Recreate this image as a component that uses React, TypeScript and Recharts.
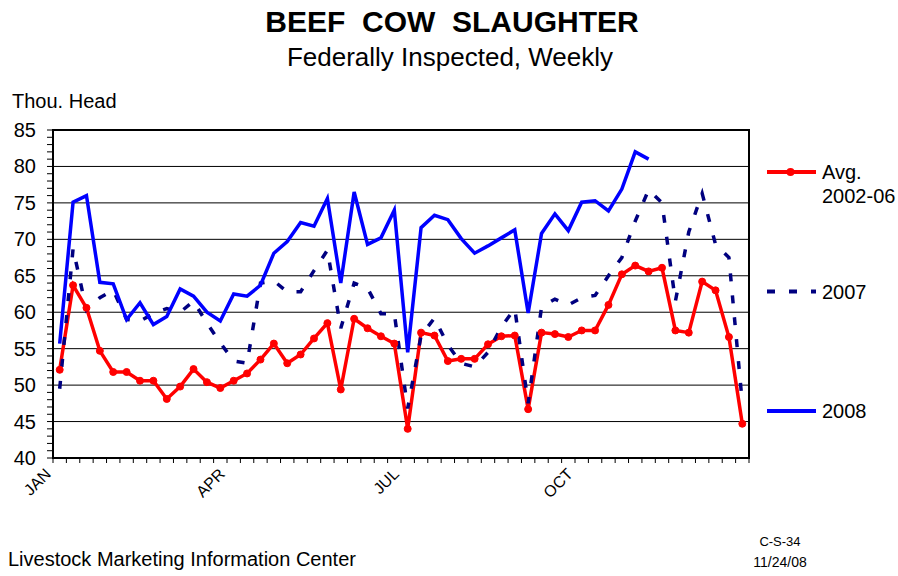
import React from "react";
import {
  LineChart,
  Line,
  XAxis,
  YAxis,
  CartesianGrid,
  ReferenceArea,
  Legend,
} from "recharts";

// weekly beef cow slaughter, thousand head
const avg0206 = [
  52.1, 63.7, 60.6, 54.7, 51.8, 51.8, 50.6, 50.6, 48.1, 49.8, 52.2, 50.4, 49.6,
  50.6, 51.6, 53.5, 55.7, 53.0, 54.2, 56.4, 58.5, 49.4, 59.1, 57.8, 56.7, 55.7,
  44.0, 57.2, 56.8, 53.3, 53.6, 53.6, 55.6, 56.7, 56.8, 46.7, 57.2, 57.0, 56.6,
  57.5, 57.5, 61.0, 65.2, 66.4, 65.6, 66.1, 57.5, 57.2, 64.2, 63.0, 56.6, 44.7,
];
const y2007 = [
  49.5, 68.7, 60.3, 62.0, 63.0, 59.0, 58.8, 59.8, 60.5, 60.0, 61.5, 58.5, 55.8,
  53.3, 53.0, 64.0, 64.3, 62.8, 62.8, 65.7, 68.5, 57.8, 64.0, 63.3, 59.8, 59.8,
  46.8, 56.8, 59.2, 55.5, 53.0, 52.5, 54.5, 58.0, 60.5, 47.5, 60.7, 61.8, 61.0,
  62.0, 62.3, 65.0, 67.5, 72.5, 76.8, 75.0, 61.5, 71.0, 76.3, 69.3, 67.5, 47.5,
];
const y2008 = [
  55.7, 75.1, 76.0, 64.1, 63.9, 59.0, 61.3, 58.3, 59.4, 63.2, 62.2, 60.0, 58.8,
  62.5, 62.2, 63.7, 68.1, 69.7, 72.3, 71.8, 75.6, 64.0, 76.5, 69.3, 70.2, 74.0,
  54.5, 71.6, 73.3, 72.7, 70.1, 68.1, 69.1, 70.2, 71.3, 59.9, 70.8, 73.5, 71.2,
  75.1, 75.3, 73.9, 76.9, 82.0, 81.0,
];

const seriesNames = ["Avg.\n2002-06", "2007", "2008"];
const monthLabels = ["JAN", "APR", "JUL", "OCT"];
const monthStartWeeks = [0, 13, 26, 39];
const yLabels = [40, 45, 50, 55, 60, 65, 70, 75, 80, 85];

const data = avg0206.map((v, i) => ({
  week: i + 1,
  avg: v,
  y2007: y2007[i],
  y2008: i < y2008.length ? y2008[i] : null,
}));

const yMinorTicks = Array.from({ length: 46 }, (_, i) => 40 + i);
const weekEdges = Array.from({ length: 53 }, (_, i) => i + 0.5);

const FONT = "'Liberation Sans', Arial, sans-serif";

function YTick(props: any) {
  const { x, y, payload } = props;
  if (!yLabels.includes(payload.value)) return null;
  return (
    <text x={x} y={y} dy={7} textAnchor="end" fontSize={20} fill="#000" fontFamily={FONT}>
      {payload.value}
    </text>
  );
}

function XTick(props: any) {
  const { x, y, payload } = props;
  const k = monthStartWeeks.indexOf(payload.value - 0.5);
  if (k < 0) return null;
  const ax = x - 1;
  const ay = y + 10;
  return (
    <text
      x={ax}
      y={ay}
      textAnchor="end"
      fontSize={16}
      fill="#000"
      fontFamily={FONT}
      transform={`rotate(-45, ${ax}, ${ay})`}
    >
      {monthLabels[k]}
    </text>
  );
}

function LegendBox(props: any) {
  const items = [...(props.payload || [])].sort(
    (a: any, b: any) => seriesNames.indexOf(a.value) - seriesNames.indexOf(b.value)
  );
  return (
    <svg width={138} height={290} style={{ overflow: "visible" }}>
      {items.map((it: any, i: number) => {
        const cy = 22 + i * 119.5;
        const lines = String(it.value).split("\n");
        return (
          <g key={i}>
            <line
              x1={7}
              x2={56}
              y1={cy}
              y2={cy}
              stroke={it.color}
              strokeWidth={4}
              strokeDasharray={it.payload?.strokeDasharray}
            />
            {it.payload?.dot ? <circle cx={30.5} cy={cy} r={4} fill={it.color} /> : null}
            {lines.map((t: string, j: number) => (
              <text key={j} x={62} y={cy + 7 + j * 24} fontSize={20} fill="#000" fontFamily={FONT}>
                {t}
              </text>
            ))}
          </g>
        );
      })}
    </svg>
  );
}

export default function App() {
  return (
    <div
      style={{
        position: "absolute",
        left: 0,
        top: 0,
        width: 898,
        height: 576,
        background: "#fff",
        fontFamily: FONT,
      }}
    >
      <svg width={898} height={576} style={{ position: "absolute", left: 0, top: 0 }}>
        <text x={452} y={32} textAnchor="middle" fontSize={30} fontWeight="bold" fontFamily={FONT} style={{ whiteSpace: "pre" }}>
          {"BEEF  COW  SLAUGHTER"}
        </text>
        <text x={450} y={66} textAnchor="middle" fontSize={26} fontFamily={FONT}>
          Federally Inspected, Weekly
        </text>
        <text x={12} y={108} fontSize={20} fontFamily={FONT}>
          Thou. Head
        </text>
        <text x={8} y={566} fontSize={20} fontFamily={FONT}>
          Livestock Marketing Information Center
        </text>
        <text x={780} y={546} textAnchor="middle" fontSize={13} fontFamily={FONT}>
          C-S-34
        </text>
        <text x={780} y={567} textAnchor="middle" fontSize={14} fontFamily={FONT}>
          11/24/08
        </text>
      </svg>
      <div style={{ position: "absolute", left: 0, top: 0 }}>
        <LineChart
          width={898}
          height={576}
          data={data}
          margin={{ top: 130, right: 149, bottom: 78, left: 0 }}
        >
          <CartesianGrid horizontalValues={yLabels} vertical={false} stroke="#000" strokeWidth={1} />
          <XAxis
            dataKey="week"
            type="number"
            domain={[0.5, 52.5]}
            ticks={weekEdges}
            interval={0}
            height={40}
            tickSize={5}
            tick={<XTick />}
            axisLine={{ stroke: "#000", strokeWidth: 2 }}
            tickLine={{ stroke: "#000" }}
          />
          <YAxis
            type="number"
            domain={[40, 85]}
            ticks={yMinorTicks}
            interval={0}
            width={53}
            tickSize={6}
            tickMargin={11}
            tick={<YTick />}
            axisLine={{ stroke: "#000", strokeWidth: 2 }}
            tickLine={{ stroke: "#000" }}
          />
          <ReferenceArea
            x1={0.5}
            x2={52.5}
            y1={40}
            y2={85}
            fill="none"
            stroke="#000"
            strokeWidth={2}
            ifOverflow="visible"
          />
          <Legend
            layout="vertical"
            align="center"
            verticalAlign="middle"
            wrapperStyle={{ left: 760, top: 150, width: 138 }}
            content={<LegendBox />}
          />
          <Line
            dataKey="avg"
            name={seriesNames[0]}
            type="linear"
            stroke="#ff0000"
            strokeWidth={3.5}
            dot={{ r: 3.5, fill: "#ff0000", stroke: "#ff0000", strokeWidth: 1 }}
            activeDot={false}
            isAnimationActive={false}
          />
          <Line
            dataKey="y2007"
            name={seriesNames[1]}
            type="linear"
            stroke="#000080"
            strokeWidth={3.5}
            strokeDasharray="8 14"
            dot={false}
            activeDot={false}
            isAnimationActive={false}
          />
          <Line
            dataKey="y2008"
            name={seriesNames[2]}
            type="linear"
            stroke="#0000ff"
            strokeWidth={3.5}
            dot={false}
            activeDot={false}
            isAnimationActive={false}
          />
        </LineChart>
      </div>
    </div>
  );
}
